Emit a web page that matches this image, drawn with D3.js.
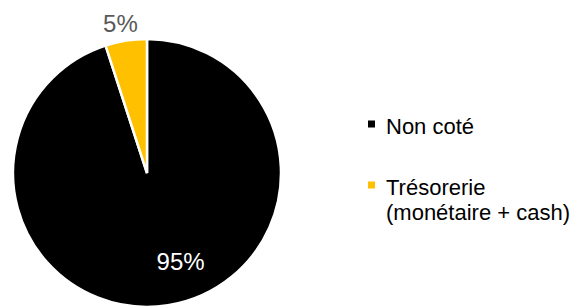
<!DOCTYPE html>
<html>
<head>
<meta charset="utf-8">
<script src="https://cdn.jsdelivr.net/npm/d3@7"></script>
<style>
  body { margin: 0; background: #fff; }
  svg { display: block; font-family: "Liberation Sans", Arial, sans-serif; }
</style>
</head>
<body>
<svg id="chart" width="585" height="306"></svg>
<script>
// data
var categories = ["Non coté", "Trésorerie (monétaire + cash)"];
var values = [95, 5];
var labels = ["95%", "5%"];
var legendLines = [["Non coté"], ["Trésorerie", "(monétaire + cash)"]];
var colors = ["#000000", "#FFC000"];

var width = 585, height = 306;
var cx = 147, cy = 173, radius = 134;

var svg = d3.select("#chart");

var pie = d3.pie().sort(null).value(function(d) { return d; });
var arcs = pie(values);

var arc = d3.arc().innerRadius(0).outerRadius(radius);
var g = svg.append("g").attr("transform", "translate(" + cx + "," + cy + ")");

g.selectAll(".slice")
  .data(arcs)
  .enter()
  .append("path")
    .attr("class", "slice")
    .attr("d", arc)
    .attr("fill", function(d, i) { return colors[i]; })
    .attr("stroke", "#fff")
    .attr("stroke-width", 2.5)
    .attr("stroke-linejoin", "miter");

// labels: big slice inside, small slice outside
var innerLabelArc = d3.arc().innerRadius(radius * 0.72).outerRadius(radius * 0.72);
var outerLabelArc = d3.arc().innerRadius(radius + 17).outerRadius(radius + 17);

g.selectAll(".lbl")
  .data(arcs)
  .enter()
  .append("text")
    .attr("class", "lbl")
    .attr("transform", function(d, i) {
      var c = i == 0 ? innerLabelArc.centroid(d) : outerLabelArc.centroid(d);
      var dx = i == 0 ? 18.5 : -3;
      var dy = i == 0 ? -6.5 : 0;
      return "translate(" + (c[0] + dx) + "," + (c[1] + dy) + ")";
    })
    .attr("text-anchor", "middle")
    .attr("dy", "0.35em")
    .attr("font-size", 24)
    .attr("fill", function(d, i) { return i == 0 ? "#ffffff" : "#595959"; })
    .text(function(d, i) { return labels[i]; });

// legend
var legendY = d3.scalePoint().domain(categories).range([124, 185]);

var legend = svg.selectAll(".legend")
  .data(categories)
  .enter()
  .append("g")
    .attr("class", "legend")
    .attr("transform", function(d) { return "translate(368," + legendY(d) + ")"; });

legend.append("rect")
  .attr("x", 0)
  .attr("y", -3.5)
  .attr("width", 7)
  .attr("height", 7)
  .attr("fill", function(d, i) { return colors[i]; });

// one text per line so wrapped lines stay separate
legend.each(function(d, i) {
  var grp = d3.select(this);
  legendLines[i].forEach(function(line, j) {
    grp.append("text")
      .attr("x", 18)
      .attr("y", 10 + j * 25)
      .attr("font-size", 22)
      .attr("fill", "#000")
      .text(line);
  });
});
</script>
</body>
</html>
